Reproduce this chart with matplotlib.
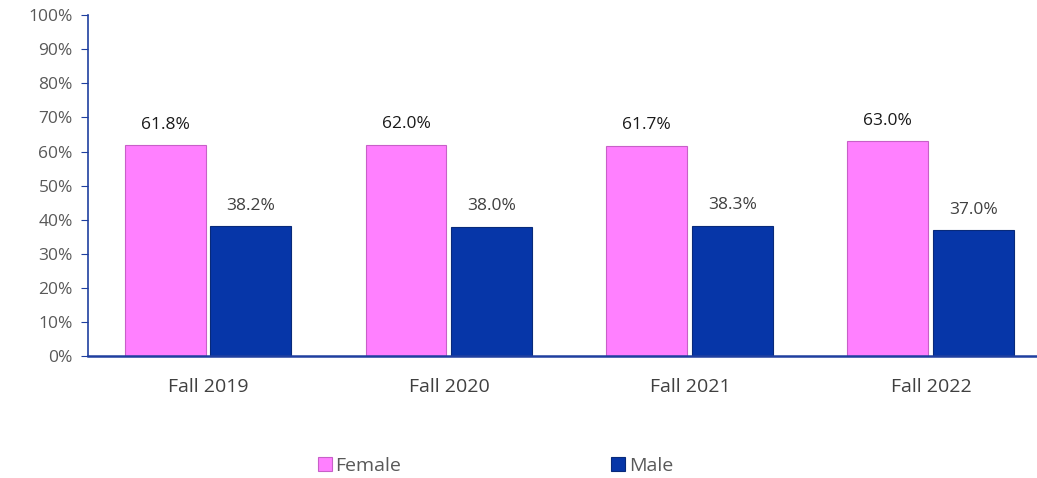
import matplotlib
matplotlib.use("Agg")
import matplotlib.pyplot as plt
from matplotlib.ticker import PercentFormatter

# data
terms = ["Fall 2019", "Fall 2020", "Fall 2021", "Fall 2022"]
female = [61.8, 62.0, 61.7, 63.0]
male = [38.2, 38.0, 38.3, 37.0]

plt.rcParams['font.family'] = ['Open Sans', 'DejaVu Sans']

fig = plt.figure(figsize=(10.37, 4.78), dpi=100)
ax = fig.add_axes([0.0849, 0.255, 0.9151, 0.7134])

x = list(range(len(terms)))
w = 0.336
xf = [i - 0.18 for i in x]
xm = [i + 0.176 for i in x]

pink = "#FF80FF"
blue = "#0636A8"
ax.bar(xf, female, width=w, color=pink, edgecolor="#C860C8", linewidth=0.8, label="Female")
ax.bar(xm, male, width=w, color=blue, edgecolor="#082A7A", linewidth=0.8, label="Male")

# value labels
for xi, v in zip(xf, female):
    ax.text(xi, v + 3.6, f"{v:.1f}%", ha="center", va="bottom", fontsize=12.5, color="#1a1a1a")
for xi, v in zip(xm, male):
    ax.text(xi, v + 3.6, f"{v:.1f}%", ha="center", va="bottom", fontsize=12.5, color="#404040")

ax.set_ylim(0, 100)
ax.set_xlim(-0.5, 3.44)
ax.set_yticks(range(0, 101, 10))
ax.yaxis.set_major_formatter(PercentFormatter(decimals=0))
ax.set_xticks(x)
ax.set_xticklabels(terms)

for s in ["top", "right"]:
    ax.spines[s].set_visible(False)
ax.spines["left"].set_color("#1F3F9F")
ax.spines["bottom"].set_color("#1F3F9F")
ax.spines["left"].set_linewidth(1.2)
ax.spines["bottom"].set_linewidth(1.8)

ax.tick_params(axis="y", direction="out", length=5, color="#1F3F9F",
               labelsize=12.5, labelcolor="#595959", pad=6)
ax.tick_params(axis="x", length=0, labelsize=14, labelcolor="#404040", pad=16)

fig.legend(loc="center", bbox_to_anchor=(0.478, 0.025), ncol=2, frameon=False,
           fontsize=14, labelcolor="#595959", handlelength=0.7, handleheight=0.7,
           handletextpad=0.2, columnspacing=10.8)

fig.savefig("out.png", dpi=100)
